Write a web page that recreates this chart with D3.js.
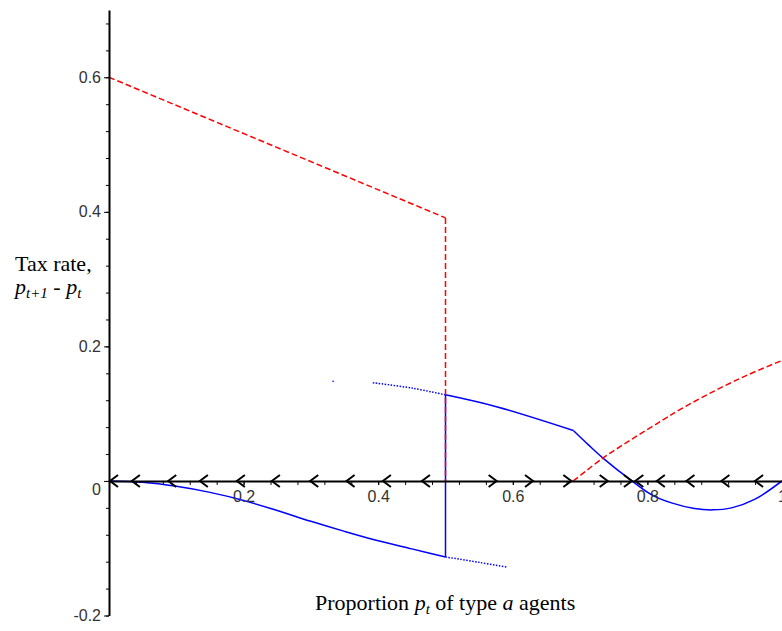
<!DOCTYPE html>
<html>
<head>
<meta charset="utf-8">
<script src="https://cdn.jsdelivr.net/npm/d3@7"></script>
<style>
  body { margin: 0; background: #fff; }
  svg { display: block; }
</style>
</head>
<body>
<div class="chart"></div>
<script>
// values
var redLeft = [[0, 0.6], [0.5, 0.391]];
var redDrop = [[0.5, 0.391], [0.5, 0]];
var redRight = [[0.69, 0], [0.734, 0.034], [0.78, 0.064], [0.822, 0.09], [0.85, 0.107], [0.9, 0.134], [0.95, 0.158], [1, 0.179]];

var blueLowLeft = [[0, 0], [0.05, -0.002], [0.1, -0.008], [0.15, -0.017], [0.2, -0.029], [0.25, -0.044], [0.3, -0.06], [0.35, -0.075], [0.4, -0.089], [0.45, -0.101], [0.5, -0.113]];
var blueLowDotted = [[0.5, -0.113], [0.55, -0.121], [0.591, -0.128]];
var blueJump = [[0.5, 0.128], [0.5, -0.113]];
var blueUpDotted = [[0.392, 0.146], [0.45, 0.138], [0.5, 0.128]];
var blueStray = [[0.333, 0.148]];
var blueUpMid = [[0.5, 0.128], [0.577, 0.11], [0.69, 0.075]];
var blueUpRight = [[0.69, 0.075], [0.712, 0.054], [0.734, 0.034], [0.777, 0], [0.807, -0.021], [0.837, -0.033], [0.87, -0.041], [0.897, -0.043], [0.925, -0.04], [0.96, -0.027], [1, 0]];

var arrowsLeft = [0.0015, 0.034, 0.088, 0.135, 0.19, 0.242, 0.299, 0.353, 0.407, 0.465, 0.782, 0.814, 0.858, 0.91, 0.96];
var arrowsRight = [0.576, 0.63, 0.687, 0.741, 0.777];

var xLabels = [0.2, 0.4, 0.6, 0.8, 1];
var yLabels = [-0.2, 0, 0.2, 0.4, 0.6];

var width = 782, height = 631;

var svg = d3.select(".chart").append("svg")
    .attr("width", width)
    .attr("height", height);

var x = d3.scaleLinear().domain([0, 1]).range([109, 782]);
var y = d3.scaleLinear().domain([-0.2, 0.7]).range([615.5, 10]);

var line = d3.line()
    .x(function(d) { return x(d[0]); })
    .y(function(d) { return y(d[1]); });
var smooth = d3.line()
    .x(function(d) { return x(d[0]); })
    .y(function(d) { return y(d[1]); })
    .curve(d3.curveCatmullRom);

// blue curves first, red goes on top
function draw(data, gen, color, dash) {
    svg.append("path")
        .datum(data)
        .attr("d", gen)
        .attr("fill", "none")
        .attr("stroke", color)
        .attr("stroke-width", 1.5)
        .attr("stroke-dasharray", dash);
}

draw(blueLowLeft, smooth, "#0000ff", null);
draw(blueLowDotted, smooth, "#0000ff", "1.5,1.5");
draw(blueJump, line, "#0000ff", null);
draw(blueUpDotted, smooth, "#0000ff", "1.5,1.5");
draw(blueUpMid, smooth, "#0000ff", null);
draw(blueUpRight, smooth, "#0000ff", null);

svg.selectAll(".stray")
    .data(blueStray)
    .enter().append("circle")
    .attr("class", "stray")
    .attr("cx", function(d) { return x(d[0]); })
    .attr("cy", function(d) { return y(d[1]); })
    .attr("r", 0.8)
    .attr("fill", "#0000ff");

draw(redLeft, line, "#ff0000", "6,3");
draw(redDrop, line, "#ff0000", "6,3");
draw(redRight, smooth, "#ff0000", "6,3");

// axes
var fmt = function(d) { return String(+d.toFixed(1)); };   // plain hyphen for -0.2
var yMinor = d3.range(-0.2, 0.7, 0.04);
var xMinor = d3.range(0, 1.0001, 0.04);

svg.append("g")
    .attr("transform", "translate(" + x(0) + ",0)")
    .call(d3.axisLeft(y).tickValues(yMinor).tickSize(3).tickSizeOuter(0).tickFormat(""))
    .call(function(g) { g.select(".domain").remove(); });

var yAxis = svg.append("g")
    .attr("transform", "translate(" + x(0) + ",0)")
    .call(d3.axisLeft(y).tickValues(yLabels).tickSize(5).tickSizeOuter(0).tickPadding(3).tickFormat(fmt));

yAxis.select(".domain").attr("stroke-width", 2);
yAxis.selectAll("text")
    .attr("dy", function(d) { return d === 0 ? "0.86em" : "0.32em"; });

var xAxis = svg.append("g")
    .attr("transform", "translate(0," + y(0) + ")")
    .call(d3.axisBottom(x).tickValues(xMinor).tickSize(4).tickSizeOuter(0).tickFormat(""));
xAxis.select(".domain").attr("stroke-width", 2);

svg.append("g")
    .attr("transform", "translate(0," + y(0) + ")")
    .call(d3.axisBottom(x).tickValues(xLabels).tickSize(4).tickPadding(6).tickSizeOuter(0).tickFormat(fmt))
    .call(function(g) { g.select(".domain").remove(); });

svg.selectAll(".tick text")
    .attr("font-family", "'Liberation Sans', Arial, sans-serif")
    .attr("font-size", 16)
    .attr("fill", "#333");

// phase arrows along the axis
svg.selectAll(".arrowL")
    .data(arrowsLeft)
    .enter().append("path")
    .attr("class", "arrowL")
    .attr("d", function(d) {
        var tx = x(d), ty = y(0);
        return "M" + (tx + 8) + "," + (ty - 6) + "L" + tx + "," + ty + "L" + (tx + 8) + "," + (ty + 6);
    })
    .attr("fill", "none").attr("stroke", "#000").attr("stroke-width", 2);

svg.selectAll(".arrowR")
    .data(arrowsRight)
    .enter().append("path")
    .attr("class", "arrowR")
    .attr("d", function(d) {
        var tx = x(d), ty = y(0);
        return "M" + (tx - 8) + "," + (ty - 6) + "L" + tx + "," + ty + "L" + (tx - 8) + "," + (ty + 6);
    })
    .attr("fill", "none").attr("stroke", "#000").attr("stroke-width", 2);

// titles
var serif = "'Liberation Serif', 'Times New Roman', serif";

svg.append("text")
    .attr("x", 15).attr("y", 271)
    .attr("font-family", serif).attr("font-size", 22)
    .text("Tax rate,");

var yt = svg.append("text")
    .attr("x", 15).attr("y", 294)
    .attr("font-family", serif).attr("font-size", 22);
yt.append("tspan").attr("font-style", "italic").text("p");
yt.append("tspan").attr("font-style", "italic").attr("font-size", 15).attr("dy", 4).text("t+1");
yt.append("tspan").attr("dy", -4).text(" - ");
yt.append("tspan").attr("font-style", "italic").text("p");
yt.append("tspan").attr("font-style", "italic").attr("font-size", 15).attr("dy", 4).text("t");

var xt = svg.append("text")
    .attr("x", 315).attr("y", 610)
    .attr("font-family", serif).attr("font-size", 22);
xt.append("tspan").text("Proportion ");
xt.append("tspan").attr("font-style", "italic").text("p");
xt.append("tspan").attr("font-style", "italic").attr("font-size", 15).attr("dy", 4).text("t");
xt.append("tspan").attr("dy", -4).text(" of type ");
xt.append("tspan").attr("font-style", "italic").text("a");
xt.append("tspan").text(" agents");
</script>
</body>
</html>
